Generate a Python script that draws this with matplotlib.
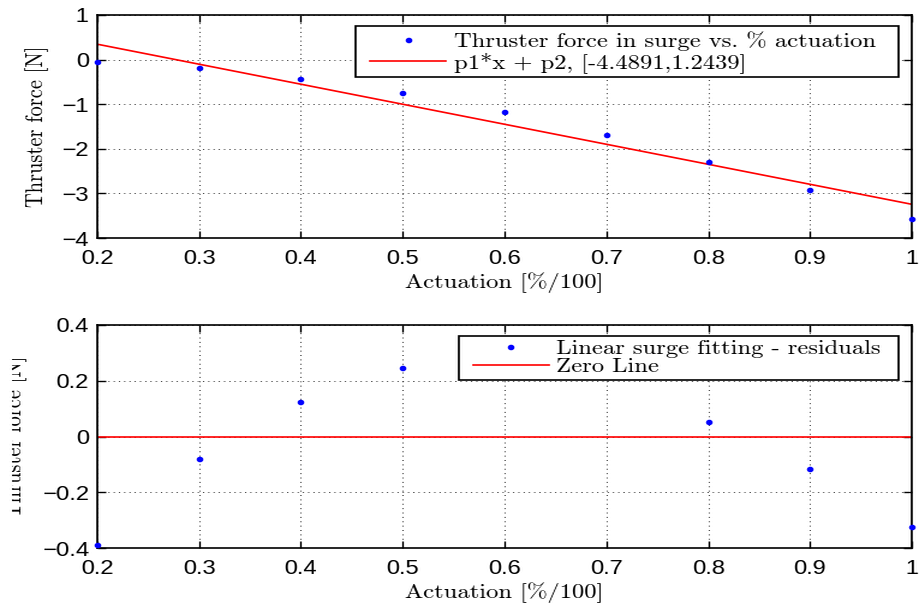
import io
import numpy as np
import matplotlib
matplotlib.use("Agg")
import matplotlib.pyplot as plt
from matplotlib.patches import Rectangle
from matplotlib.ticker import FixedLocator, FixedFormatter
from matplotlib.transforms import Bbox, TransformedBbox
from PIL import Image

# Measured thruster force vs. actuation
actuation = [0.2, 0.3, 0.4, 0.5, 0.6, 0.7, 0.8, 0.9, 1.0]
force = [-0.045, -0.18, -0.43, -0.76, -1.17, -1.69, -2.30, -2.92, -3.57]

# Linear fit coefficients
p1, p2 = -4.4891, 1.2439

# Residuals of the linear fit
res_x = [0.2, 0.3, 0.4, 0.5, 0.8, 0.9, 1.0]
residuals = [-0.39, -0.08, 0.125, 0.245, 0.052, -0.115, -0.325]

xticks = [0.2, 0.3, 0.4, 0.5, 0.6, 0.7, 0.8, 0.9, 1.0]
xtick_labels = ["0.2", "0.3", "0.4", "0.5", "0.6", "0.7", "0.8", "0.9", "1"]
yticks_top = [1, 0, -1, -2, -3, -4]
ytick_labels_top = ["1", "0", "\u22121", "\u22122", "\u22123", "\u22124"]
yticks_bot = [0.4, 0.2, 0, -0.2, -0.4]
ytick_labels_bot = ["0.4", "0.2", "0", "\u22120.2", "\u22120.4"]

serif = "cmr10"
sans = "Liberation Sans"

# The figure is drawn on a narrower canvas and widened on export
W, H = 919, 607
STRETCH = 1.2
fig = plt.figure(figsize=(W / STRETCH / 100, H / 100), dpi=100)
ax1 = fig.add_axes([97 / W, 1 - 238 / H, (911 - 97) / W, (238 - 15) / H])
ax2 = fig.add_axes([97 / W, 1 - 548 / H, (911 - 97) / W, (548 - 325) / H])


def fig_xy(px, py):
    return px / W, 1 - py / H


def style(ax, yt, ytl, ylim):
    ax.set_xlim(0.2, 1.0)
    ax.set_ylim(*ylim)
    ax.xaxis.set_major_locator(FixedLocator(xticks))
    ax.xaxis.set_major_formatter(FixedFormatter(xtick_labels))
    ax.yaxis.set_major_locator(FixedLocator(yt))
    ax.yaxis.set_major_formatter(FixedFormatter(ytl))
    ax.tick_params(direction="in", top=True, right=True, length=5, width=1,
                   labelsize=14.3)
    ax.tick_params(axis="x", pad=8)
    ax.tick_params(axis="y", pad=5)
    for lab in ax.get_xticklabels() + ax.get_yticklabels():
        lab.set_fontfamily(sans)
    ax.grid(True, linestyle=(0, (1, 3.5)), color="black", linewidth=0.7, alpha=0.75)
    for s in ax.spines.values():
        s.set_linewidth(1.2)
    ax.set_xlabel("Actuation [%/100]", fontfamily=serif, fontsize=14.7, labelpad=3)


def legend(ax, box, anchor, spacing):
    # white framed box behind the legend entries
    (x0, y0), (x1, y1) = box
    fx0, fy1 = fig_xy(x0, y0)
    fx1, fy0 = fig_xy(x1, y1)
    ax.add_patch(Rectangle((fx0, fy0), fx1 - fx0, fy1 - fy0,
                           transform=fig.transFigure, facecolor="white",
                           edgecolor="black", linewidth=1.2, clip_on=False,
                           zorder=4.9))
    leg = ax.legend(loc="upper left", bbox_to_anchor=fig_xy(*anchor),
                    bbox_transform=fig.transFigure,
                    prop={"family": serif, "size": 14.7}, frameon=False,
                    handlelength=3.06, borderpad=0, labelspacing=spacing,
                    handletextpad=0.33, borderaxespad=0)
    leg.set_zorder(5)
    return leg


# Top: data and linear fit
ax1.plot(actuation, force, ".", color="blue", markersize=6,
         label="Thruster force in surge vs. % actuation", clip_on=False, zorder=5)
xf = np.array([actuation[0], actuation[-1]])
ax1.plot(xf, p1 * xf + p2, "-", color="red", linewidth=1.2,
         label=f"p1*x + p2, [{p1},{p2}]")
style(ax1, yticks_top, ytick_labels_top, (-4, 1))
ax1.set_ylabel("Thruster force [N]", fontfamily=serif, fontsize=14.7)
ax1.yaxis.set_label_coords(-0.058, 0.5)
legend(ax1, ((355, 26), (898, 77)), (370, 31), 0.06)

# Bottom: residuals
ax2.plot(res_x, residuals, ".", color="blue", markersize=6,
         label="Linear surge fitting - residuals", clip_on=False, zorder=5)
ax2.axhline(0, color="red", linewidth=1.2, label="Zero Line")
style(ax2, yticks_bot, ytick_labels_bot, (-0.4, 0.4))
ax2.set_ylabel("Thruster force [N]", fontfamily=serif, fontsize=14.7)
ax2.yaxis.set_label_coords(-0.085, 0.5)
# the lower label runs past the window edge and is cut there
lbl = ax2.yaxis.label
lbl.set_clip_box(TransformedBbox(Bbox([[12 / W, 0], [1, 1]]), fig.transFigure))
lbl.set_clip_on(True)
legend(ax2, ((458, 336), (898, 380)), (473, 340), -0.04)

buf = io.BytesIO()
fig.savefig(buf, format="png", dpi=100)
buf.seek(0)
img = Image.open(buf).convert("RGB")
img.resize((W, H), Image.LANCZOS).save("out.png")
